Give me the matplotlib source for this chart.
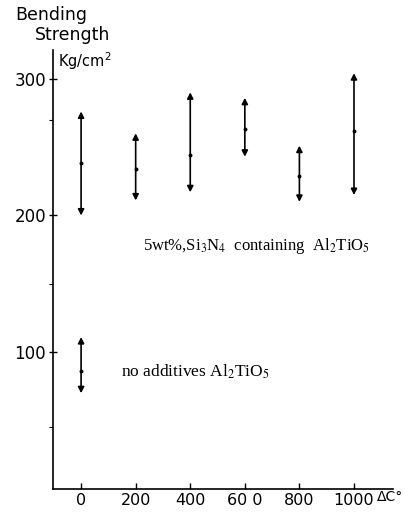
import matplotlib
matplotlib.use('Agg')
import matplotlib.pyplot as plt

## temperature difference (x) of each sample
temps = [0, 200, 400, 600, 800, 1000]
## Si3N4 containing Al2TiO5: max, mean, min strength
si_top = [276, 260, 290, 286, 251, 304]
si_mid = [238, 234, 244, 263, 229, 262]
si_low = [200, 211, 217, 243, 210, 215]
## no additives
plain_x = [0]
plain_top = [111]
plain_mid = [86]
plain_low = [70]

xtick_labels = ['0', '200', '400', '60 0', '800', '1000']
yticks = [100, 200, 300]

plt.rcParams['font.family'] = ['DejaVu Sans']
plt.rcParams['mathtext.fontset'] = 'stix'

fig = plt.figure(figsize=(4.06, 5.13), dpi=100)
ax = fig.add_axes([0.1305, 0.047, 0.8375, 0.8555])


def draw_range(xs, tops, mids, lows):
    '''draws a double arrow from low to top with a small dot at the mean'''
    for x, t, m, l in zip(xs, tops, mids, lows):
        ax.annotate('', xy=(x, t), xytext=(x, l),
                    arrowprops=dict(arrowstyle='<|-|>,head_length=0.35,head_width=0.18',
                                    mutation_scale=10, color='black', lw=1.2,
                                    shrinkA=0, shrinkB=0))
    ax.plot(xs, mids, 'o', color='black', markersize=1.8)


draw_range(temps, si_top, si_mid, si_low)
draw_range(plain_x, plain_top, plain_mid, plain_low)

ax.set_xlim(-103, 1143)
ax.set_ylim(0, 321)
ax.spines['top'].set_visible(False)
ax.spines['right'].set_visible(False)
ax.spines['left'].set_linewidth(1.2)
ax.spines['bottom'].set_linewidth(1.2)

ax.set_xticks(temps)
ax.set_xticklabels(xtick_labels, fontsize=11.5)
ax.tick_params(axis='x', direction='in', length=4, width=1, pad=3)
ax.set_yticks(yticks)
ax.set_yticklabels([str(v) for v in yticks], fontsize=12)
ax.set_yticks([45, 150, 270], minor=True)
ax.tick_params(axis='y', which='major', direction='inout', length=6, width=1, pad=2)
ax.tick_params(axis='y', which='minor', direction='out', length=3, width=0.8)

# axis titles
fig.text(0.037, 0.971, 'Bending', fontsize=12.5, va='center', ha='left')
fig.text(0.086, 0.932, 'Strength', fontsize=12.5, va='center', ha='left')
fig.text(0.143, 0.883, r'Kg/cm$^\mathregular{2}$', fontsize=10.5, va='center', ha='left')
fig.text(0.928, 0.032, 'ΔC°', fontsize=10, va='center', ha='left')

ax.text(228, 178, r'5wt%,Si$_3$N$_4$  containing  Al$_2$TiO$_5$',
        fontsize=12, family='Liberation Serif', va='center')
ax.text(145, 86, r'no additives Al$_2$TiO$_5$',
        fontsize=12.5, family='Liberation Serif', va='center')

fig.savefig('out.png', dpi=100)
